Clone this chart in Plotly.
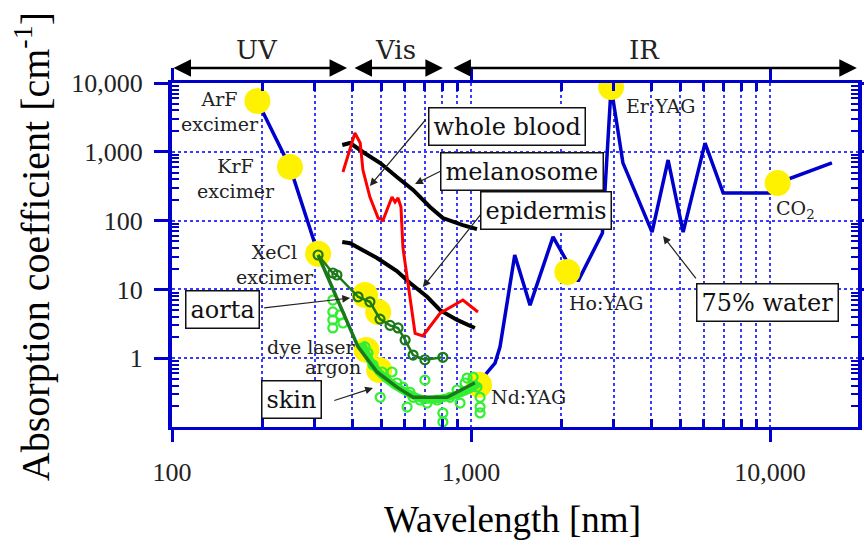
import math
import plotly.graph_objects as go

# ---------------- data ----------------
# UV excimer segment of the blue curve
uv_x = [193, 248, 308]
uv_y = [5470, 603, 33]

# 75% water (IR)
water_x = [1064, 1114, 1203, 1250, 1400, 1575, 1880, 2280, 2750, 2940, 3220, 3480,
           4030, 4560, 5120, 6060, 6970, 10000, 10600, 16100]
water_y = [0.41, 0.57, 0.85, 1.46, 31.6, 5.9, 58, 13.2, 66, 8750, 690, 307,
           68, 760, 68, 1340, 252, 252, 352, 690]

# whole blood (red)
blood_x = [373, 409, 426, 435, 459, 489, 508, 528, 544, 557, 570, 583, 592, 650, 690, 788, 939, 1055]
blood_y = [509, 1876, 1343, 543, 220, 109, 102, 152, 220, 186, 213, 158, 40, 2.3, 2.1, 4.5, 7.0, 4.7]

# melanosome (black, upper)
mel_x = [371, 394, 435, 497, 565, 640, 729, 805, 939, 1047]
mel_y = [1256, 1343, 993, 687, 430, 279, 158, 109, 86, 75]

# epidermis (black, lower)
epi_x = [371, 394, 485, 565, 625, 713, 788, 898, 1030]
epi_y = [49, 47, 28.6, 18.5, 12.4, 7.8, 5.0, 3.6, 2.75]

# aorta (dark green with markers)
aorta_x = [308, 345, 356, 419, 459, 496, 536, 570, 602, 640, 701, 805]
aorta_y = [31.6, 17.3, 16.2, 7.8, 6.6, 3.7, 3.0, 2.75, 1.84, 1.11, 0.95, 1.03]

# skin (dark green fit line)
skin_fit_x = [308, 373, 419, 485, 565, 640, 832, 1030]
skin_fit_y = [31.6, 4.5, 1.46, 0.63, 0.38, 0.27, 0.27, 0.44]

# skin measured points (bright green circles)
skin_pts_x = [345, 345, 345, 345, 365, 373, 442, 452, 470, 504, 497, 544, 565, 592, 625, 640,
              701, 713, 770, 805, 805, 851, 898, 919, 955, 970, 1016, 1047, 1072, 1072, 1072,
              675, 611]
skin_pts_y = [7.0, 4.7, 3.6, 2.75, 4.25, 3.25, 1.46, 1.19, 0.80, 0.63, 0.27, 0.63, 0.436, 0.38,
              0.32, 0.27, 0.48, 0.223, 0.247, 0.16, 0.118, 0.27, 0.345, 0.223, 0.436, 0.515,
              0.53, 0.38, 0.27, 0.195, 0.16, 0.247, 0.195]

# bright green band under the skin fit
skin_band_x = [430, 470, 520, 600, 700, 830, 1000, 1064]
skin_band_y = [1.7, 0.8, 0.5, 0.33, 0.25, 0.27, 0.36, 0.44]

# lasers (yellow dots)
laser_names = ['ArF', 'KrF', 'XeCl', 'Nd:YAG', 'Ho:YAG', 'Er:YAG', 'CO2']
laser_x = [193, 248, 308, 1064, 2100, 2940, 10600]
laser_y = [5470, 603, 33, 0.41, 17.9, 8750, 352]

# dye laser / argon yellow blobs
dye_x = [442, 489]
dye_y = [8.3, 4.7]
argon_x = [447, 493]
argon_y = [1.32, 0.675]

# axis ticks
x_tick_vals = [100, 1000, 10000]
x_tick_text = ['100', '1,000', '10,000']
x_minor_vals = [200, 300, 400, 500, 600, 700, 800, 900,
                2000, 3000, 4000, 5000, 6000, 7000, 8000, 9000]
y_tick_vals = [1, 10, 100, 1000, 10000]
y_tick_text = ['1', '10', '100', '1,000', '10,000']
y_minor_vals = [m * 10 ** e for e in range(-1, 4) for m in range(2, 10)]

# spectral bands (nm)
band_names = ['UV', 'Vis', 'IR']
band_start = [100, 403, 863]
band_end = [385, 805, 19500]
band_label_x = [192, 557, 3790]

# ---------------- figure ----------------
BLUE = '#0000cc'
GRID = '#3a3aff'
YELLOW = '#fff200'
DKGREEN = '#1a7a1a'
LTGREEN = '#33ee33'
SERIF = 'DejaVu Serif'
TSERIF = 'Liberation Serif'
L = math.log10

fig = go.Figure()

fig.add_trace(go.Scatter(x=uv_x, y=uv_y, mode='lines', line=dict(color=BLUE, width=3.5),
                         showlegend=False, hoverinfo='skip'))
fig.add_trace(go.Scatter(x=water_x, y=water_y, mode='lines', line=dict(color=BLUE, width=3.5),
                         showlegend=False, name='75% water'))
fig.add_trace(go.Scatter(x=laser_x, y=laser_y, mode='markers',
                         marker=dict(color=YELLOW, size=26, line=dict(width=0)),
                         text=laser_names, showlegend=False))
fig.add_trace(go.Scatter(x=dye_x + argon_x, y=dye_y + argon_y, mode='markers',
                         marker=dict(color=YELLOW, size=26, line=dict(width=0)),
                         showlegend=False))
fig.add_trace(go.Scatter(x=skin_band_x, y=skin_band_y, mode='lines',
                         line=dict(color=LTGREEN, width=8, shape='spline'),
                         showlegend=False, hoverinfo='skip'))
fig.add_trace(go.Scatter(x=skin_pts_x, y=skin_pts_y, mode='markers',
                         marker=dict(symbol='circle-open', color=LTGREEN, size=9,
                                     line=dict(width=2.2, color=LTGREEN)),
                         showlegend=False, name='skin data'))
fig.add_trace(go.Scatter(x=skin_fit_x, y=skin_fit_y, mode='lines',
                         line=dict(color=DKGREEN, width=3.5), showlegend=False, name='skin'))
fig.add_trace(go.Scatter(x=aorta_x, y=aorta_y, mode='lines+markers',
                         line=dict(color=DKGREEN, width=2.5),
                         marker=dict(symbol='circle-open', color=DKGREEN, size=9,
                                     line=dict(width=2.2, color=DKGREEN)),
                         showlegend=False, name='aorta'))
fig.add_trace(go.Scatter(x=mel_x, y=mel_y, mode='lines', line=dict(color='black', width=4),
                         showlegend=False, name='melanosome'))
fig.add_trace(go.Scatter(x=epi_x, y=epi_y, mode='lines', line=dict(color='black', width=4),
                         showlegend=False, name='epidermis'))
fig.add_trace(go.Scatter(x=blood_x, y=blood_y, mode='lines', line=dict(color='#ff0000', width=3),
                         showlegend=False, name='whole blood'))

ann = []

# plain laser labels
small = [
    ('ArF<br>excimer', 145, 3790),
    ('KrF<br>excimer', 164, 416),
    ('XeCl<br>excimer', 221, 23.4),
    ('dye laser', 292, 1.46),
    ('argon', 345, 0.745),
    ('Nd:YAG', 1552, 0.273),
    ('Ho:YAG', 2830, 6.34),
    ('Er:YAG', 4300, 4600),
    ('CO<sub>2</sub>', 12130, 143),
]
for t, x, y in small:
    ann.append(dict(text=t, x=L(x), y=L(y), xref='x', yref='y', showarrow=False,
                    font=dict(family=SERIF, size=19, color='#222'), align='center'))

# boxed labels with pointer arrows: text, box centre, arrow head, arrow tail
boxed = [
    ('whole blood', (1319, 2371), (459, 318), (713, 3100)),
    ('melanosome', (1483, 526), (650, 341), (805, 543)),
    ('epidermis', (1783, 138), (690, 10.8), (1088, 129)),
    ('aorta', (147, 5.02), (394, 7.5), (201, 5.37)),
    ('skin', (250, 0.247), (470, 0.369), (345, 0.239)),
    ('75% water', (9770, 6.56), (4385, 59.7), (5700, 13.7)),
]
for t, c, h, tl in boxed:
    ann.append(dict(text='', x=L(h[0]), y=L(h[1]), xref='x', yref='y',
                    ax=L(tl[0]), ay=L(tl[1]), axref='x', ayref='y', showarrow=True,
                    arrowhead=2, arrowsize=1.3, arrowwidth=1.2, arrowcolor='#222'))
    ann.append(dict(text=t, x=L(c[0]), y=L(c[1]), xref='x', yref='y', showarrow=False,
                    font=dict(family=SERIF, size=24, color='#111'),
                    bgcolor='white', bordercolor='#111', borderwidth=1.5, borderpad=4))

# spectral band arrows + labels
for name, s, e, lx in zip(band_names, band_start, band_end, band_label_x):
    ann.append(dict(text='', x=L(e), y=1.0436, xref='x', yref='paper',
                    ax=L(s), ay=0, axref='x', ayref='pixel', showarrow=True,
                    arrowside='end+start', arrowhead=2, arrowsize=1.4, arrowwidth=2.5,
                    arrowcolor='black'))
    ann.append(dict(text=name, x=L(lx), y=1.096, xref='x', yref='paper', showarrow=False,
                    xanchor='center', yanchor='middle',
                    font=dict(family=SERIF, size=26, color='#222')))

# axis titles
ann.append(dict(text='Wavelength [nm]', x=0.497, y=-0.27, xref='paper', yref='paper',
                xanchor='center', yanchor='middle',
                showarrow=False, font=dict(family=TSERIF, size=37, color='black')))
ann.append(dict(text='Absorption coefficient [cm<sup>-1</sup>]', x=-0.204, y=0.523,
                xref='paper', yref='paper', showarrow=False, textangle=-90,
                xanchor='center', yanchor='middle',
                font=dict(family=TSERIF, size=40, color='black')))

common = dict(showline=True, linecolor=BLUE, mirror='allticks', ticks='outside',
              tickcolor=BLUE, showgrid=True, gridcolor=GRID, griddash='dot', gridwidth=1.5,
              zeroline=False, automargin=False,
              tickfont=dict(family=TSERIF, size=26, color='#222'))

fig.update_layout(
    width=864, height=546,
    margin=dict(l=172, r=6, t=83, b=119),
    paper_bgcolor='white', plot_bgcolor='white',
    showlegend=False,
    xaxis=dict(type='log', range=[2, 4.294], tickmode='array', tickvals=x_tick_vals,
               ticktext=x_tick_text, ticklen=12, tickwidth=3, linewidth=3,
               ticklabelstandoff=8,
               minor=dict(tickmode='array', tickvals=x_minor_vals, ticks='inside', ticklen=8,
                          tickwidth=3, tickcolor=BLUE, showgrid=True, gridcolor=GRID,
                          griddash='dot', gridwidth=1.5),
               **common),
    yaxis=dict(type='log', range=[-1, 4], tickmode='array', tickvals=y_tick_vals,
               ticktext=y_tick_text, ticklen=14, tickwidth=3, linewidth=4,
               ticklabelstandoff=6,
               minor=dict(tickmode='array', tickvals=y_minor_vals, ticks='inside', ticklen=7,
                          tickwidth=2, tickcolor=BLUE, showgrid=False),
               **common),
    annotations=ann,
)

fig.write_html('out.html', config={'displayModeBar': False},
               post_script="document.body.style.margin='0';document.body.style.overflow='hidden';")
